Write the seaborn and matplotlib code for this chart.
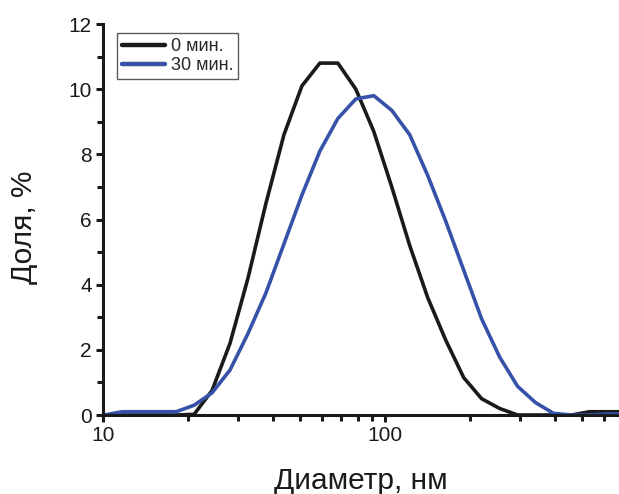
import numpy as np
import pandas as pd
import matplotlib
matplotlib.use('Agg')
import matplotlib.pyplot as plt
import matplotlib.ticker as mticker
import seaborn as sns

# Размеры частиц (бины DLS), нм
diameter = [10.10, 11.70, 13.54, 15.69, 18.17, 21.04, 24.36, 28.21, 32.67, 37.84,
            43.82, 50.75, 58.77, 68.06, 78.82, 91.28, 105.7, 122.4, 141.8, 164.2,
            190.1, 220.2, 255.0, 295.3, 342.0, 396.1, 458.7, 531.2, 615.1, 712.4]

# Доля, % - 0 мин.
share_0 = [0, 0, 0, 0, 0, 0.02, 0.75, 2.2, 4.2, 6.5,
           8.6, 10.1, 10.8, 10.8, 10.0, 8.7, 7.0, 5.2, 3.6, 2.3,
           1.15, 0.5, 0.2, 0.0, 0, 0, 0, 0.1, 0.1, 0.1]

# Доля, % - 30 мин.
share_30 = [0, 0.1, 0.1, 0.1, 0.1, 0.3, 0.68, 1.38, 2.5, 3.75,
            5.25, 6.75, 8.1, 9.1, 9.7, 9.8, 9.35, 8.6, 7.35, 5.95,
            4.45, 2.95, 1.78, 0.88, 0.38, 0.05, 0, 0, 0.03, 0.03]

labels = ['0 мин.', '30 мин.']
colors = ['#1a1a1a', '#3552a8']

df = pd.DataFrame({'Diameter': diameter * 2,
                   'Share': share_0 + share_30,
                   'Series': [labels[0]] * len(diameter) + [labels[1]] * len(diameter)})

sns.set_style('ticks')
plt.rcParams['font.family'] = ['Liberation Sans', 'DejaVu Sans']

fig = plt.figure(figsize=(6.19, 4.94), dpi=100)
ax = fig.add_axes([103 / 619, 79 / 494, 1 - 103 / 619, 391 / 494])

sns.lineplot(data=df, x='Diameter', y='Share', hue='Series', palette=colors,
             linewidth=2.6, ax=ax, sort=False)

ax.set_xscale('log')
ax.set_xlim(10, 676)
ax.set_ylim(0, 12)
ax.yaxis.set_major_locator(mticker.MultipleLocator(2))
ax.yaxis.set_minor_locator(mticker.MultipleLocator(1))
ax.xaxis.set_major_formatter(mticker.FuncFormatter(lambda v, p: '%g' % v))
ax.xaxis.set_minor_formatter(mticker.NullFormatter())

for s in ['top', 'right']:
    ax.spines[s].set_visible(False)
for s in ['left', 'bottom']:
    ax.spines[s].set_linewidth(2.2)
    ax.spines[s].set_color('#1a1a1a')

ax.tick_params(which='major', direction='out', length=5, width=2.2, labelsize=15,
               color='#1a1a1a', labelcolor='#1a1a1a', pad=3)
ax.tick_params(which='minor', direction='out', length=4, width=2.2, color='#1a1a1a')

ax.set_xlabel('Диаметр, нм', fontsize=21.5, color='#1a1a1a', labelpad=16)
ax.set_ylabel('Доля, %', fontsize=21.5, color='#1a1a1a')
ax.yaxis.set_label_coords(-0.126, 0.48)

leg = ax.legend(loc='upper left', bbox_to_anchor=(0.027, 0.977), fontsize=13,
                frameon=True, fancybox=False, handlelength=2.4, handletextpad=0.3,
                borderpad=0.28, labelspacing=0.12, borderaxespad=0)
leg.get_frame().set_edgecolor('#333333')
leg.get_frame().set_linewidth(1.0)
for line in leg.get_lines():
    line.set_linewidth(3.2)

plt.savefig('out.png', dpi=100)
plt.close()
